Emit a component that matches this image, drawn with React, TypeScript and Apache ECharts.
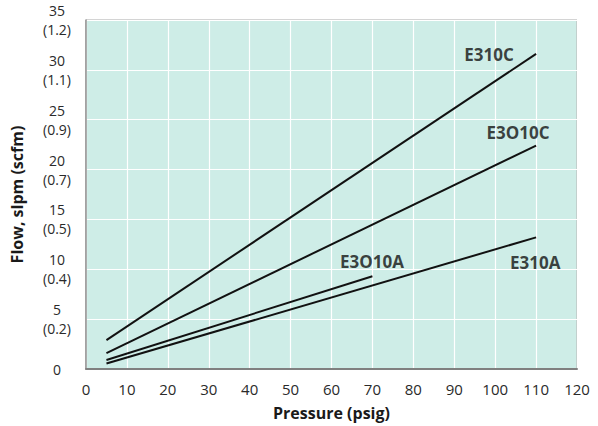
import React, { useEffect, useRef } from "react";
import * as echarts from "echarts";

const xTicks = [0, 10, 20, 30, 40, 50, 60, 70, 80, 90, 100, 110, 120];
const yTicksSlpm = [0, 5, 10, 15, 20, 25, 30, 35];
const yTicksScfm = ["", "(0.2)", "(0.4)", "(0.5)", "(0.7)", "(0.9)", "(1.1)", "(1.2)"];

const seriesNames = ["E310C", "E3O10C", "E3O10A", "E310A"];
const e310cX = [5, 110];
const e310cY = [2.9, 31.6];
const e3o10cX = [5, 110];
const e3o10cY = [1.6, 22.4];
const e3o10aX = [5, 70];
const e3o10aY = [0.9, 9.3];
const e310aX = [5, 110];
const e310aY = [0.55, 13.2];

// label anchor positions in data coordinates
const labelX = [98.5, 105.6, 69.9, 109.8];
const labelY = [31.5, 23.7, 10.8, 10.7];

const FONT = "'Open Sans', Lato, sans-serif";

function pairs(xs: number[], ys: number[]) {
  return xs.map((x, i) => [x, ys[i]]);
}

export default function App() {
  const ref = useRef<HTMLDivElement>(null);
  useEffect(() => {
    document.body.style.margin = "0";
    const chart = echarts.init(ref.current!, null, { renderer: "svg" });
    const lineData = [
      pairs(e310cX, e310cY),
      pairs(e3o10cX, e3o10cY),
      pairs(e3o10aX, e3o10aY),
      pairs(e310aX, e310aY),
    ];
    const lineSeries = lineData.map((d, i) => ({
      type: "line",
      name: seriesNames[i],
      data: d,
      symbol: "none",
      lineStyle: { color: "#111", width: 2 },
      z: 3,
    }));
    chart.setOption({
      animation: false,
      textStyle: { fontFamily: FONT },
      grid: {
        left: 86,
        top: 20,
        right: 21,
        bottom: 57,
        show: true,
        backgroundColor: "#ceede7",
        borderColor: "#a8a8a8",
        borderWidth: 1,
      },
      xAxis: {
        type: "value",
        min: 0,
        max: 120,
        interval: 10,
        name: "Pressure (psig)",
        nameLocation: "middle",
        nameGap: 36,
        nameTextStyle: { fontFamily: FONT, fontWeight: "bold", fontSize: 16, color: "#1a1a1a" },
        axisLine: { show: true, lineStyle: { color: "#808080", width: 2 } },
        axisTick: { show: false },
        axisLabel: {
          margin: 12,
          fontSize: 15,
          color: "#2a2a2a",
          fontFamily: FONT,
          formatter: (v: number) => (xTicks.includes(v) ? String(v) : ""),
        },
        splitLine: { show: true, lineStyle: { color: "#ffffff", width: 1.2 } },
      },
      yAxis: {
        type: "value",
        min: 0,
        max: 35,
        interval: 5,
        name: "Flow, slpm (scfm)",
        nameLocation: "middle",
        nameGap: 61,
        nameTextStyle: { fontFamily: FONT, fontWeight: "bold", fontSize: 16, color: "#1a1a1a" },
        axisLine: { show: true, lineStyle: { color: "#909090", width: 1.5 } },
        axisTick: { show: false },
        axisLabel: {
          margin: 29,
          align: "center",
          fontSize: 14,
          lineHeight: 19,
          color: "#2a2a2a",
          fontFamily: FONT,
          formatter: (v: number) => {
            const i = yTicksSlpm.indexOf(v);
            if (i < 0) return "";
            return yTicksScfm[i] ? `${v}\n${yTicksScfm[i]}` : String(v);
          },
        },
        splitLine: { show: true, lineStyle: { color: "#ffffff", width: 1.2 } },
      },
      series: [
        ...lineSeries,
        {
          type: "scatter",
          symbolSize: 0,
          z: 4,
          data: labelX.map((x, i) => ({
            value: [x, labelY[i]],
            label: {
              show: true,
              position: "inside",
              formatter: seriesNames[i],
              fontFamily: FONT,
              fontWeight: "bold",
              fontSize: 17,
              color: "#111",
            },
          })),
        },
      ],
    });
    return () => chart.dispose();
  }, []);
  return <div ref={ref} style={{ width: 598, height: 426 }} />;
}
